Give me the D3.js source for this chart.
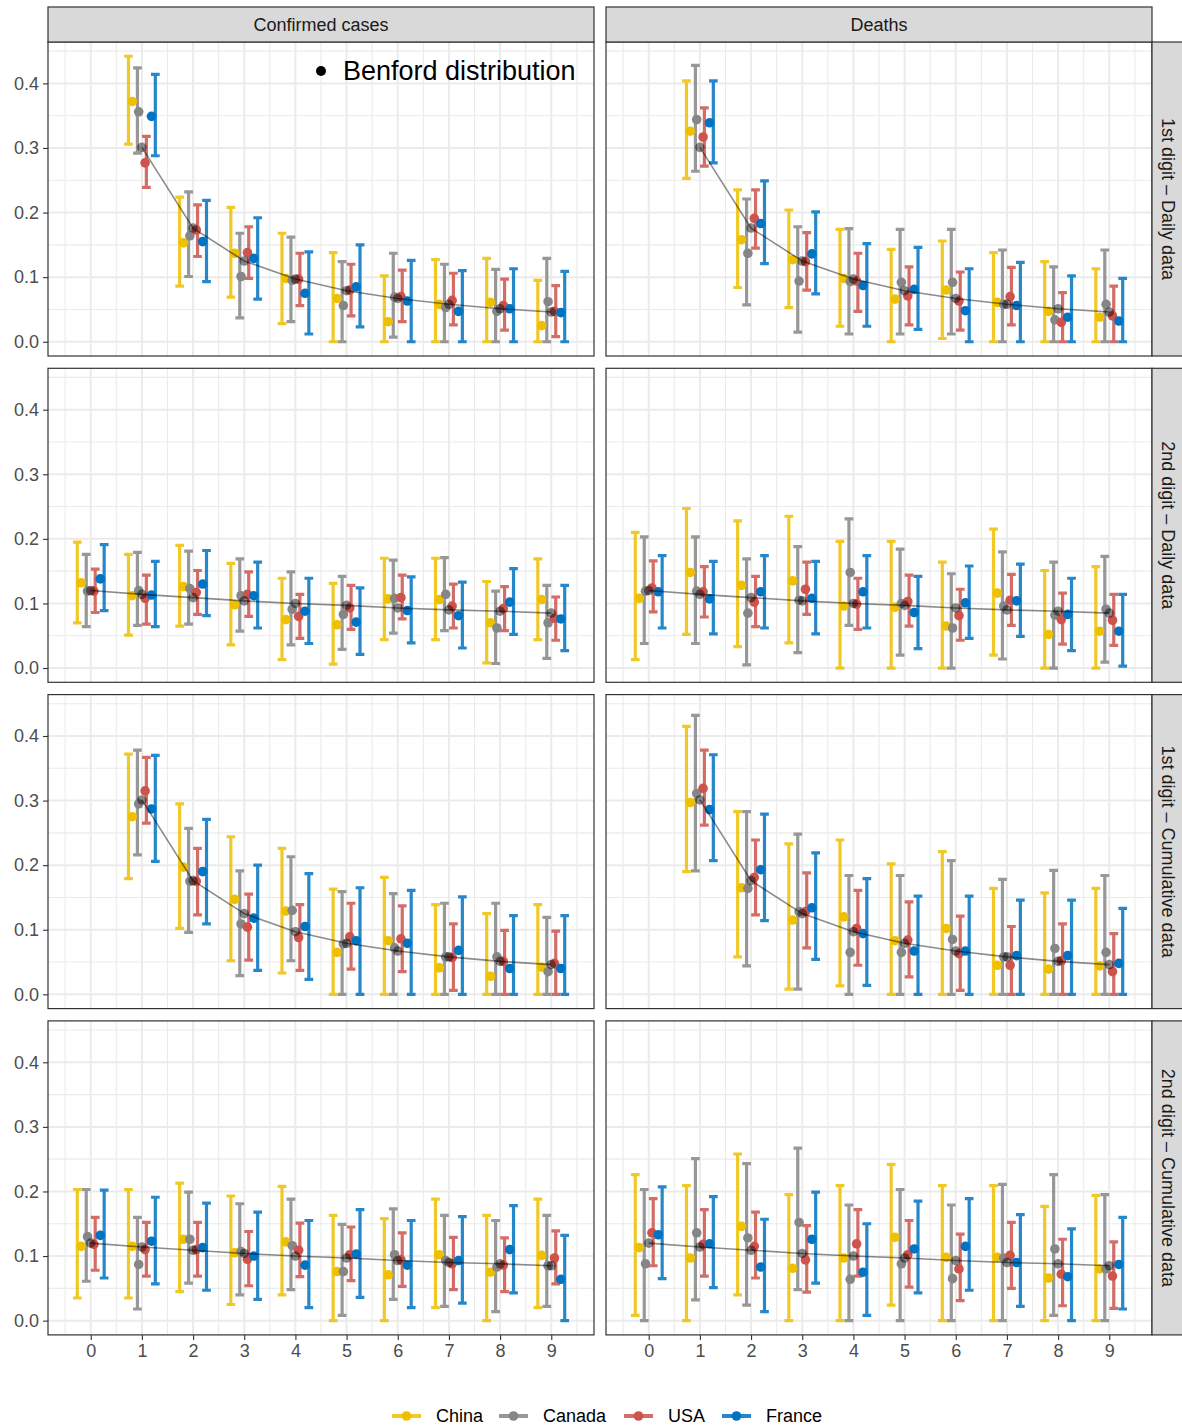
<!DOCTYPE html>
<html>
<head>
<meta charset="utf-8">
<script src="https://cdn.jsdelivr.net/npm/d3@7"></script>
<style>
  body { margin: 0; background: #fff; }
  svg text { font-family: "Liberation Sans", Arial, Helvetica, sans-serif; }
</style>
</head>
<body>
<svg id="chart"></svg>
<script>
// ---- data ----
const countries = ['China', 'Canada', 'USA', 'France'];
const countryColors = ['#EFC000', '#868686', '#CD534C', '#0073C2'];
const digits1 = [1, 2, 3, 4, 5, 6, 7, 8, 9];
const digits2 = [0, 1, 2, 3, 4, 5, 6, 7, 8, 9];
const xTicks = [0, 1, 2, 3, 4, 5, 6, 7, 8, 9];
const yTicks = [0, 0.1, 0.2, 0.3, 0.4];
const columnLabels = ['Confirmed cases', 'Deaths'];
const rowLabels = ['1st digit \u2013 Daily data', '2nd digit \u2013 Daily data',
                   '1st digit \u2013 Cumulative data', '2nd digit \u2013 Cumulative data'];

const benford1 = [0.301, 0.176, 0.125, 0.097, 0.079, 0.067, 0.058, 0.051, 0.046];
const benford2 = [0.120, 0.114, 0.109, 0.104, 0.100, 0.097, 0.093, 0.090, 0.088, 0.085];

// rows: China, Canada, USA, France
const confDaily1Mid = [
  [0.372, 0.153, 0.137, 0.098, 0.067, 0.031, 0.058, 0.061, 0.025],
  [0.356, 0.164, 0.101, 0.095, 0.056, 0.069, 0.053, 0.047, 0.062],
  [0.277, 0.173, 0.138, 0.097, 0.080, 0.070, 0.064, 0.056, 0.047],
  [0.349, 0.155, 0.129, 0.075, 0.085, 0.063, 0.047, 0.051, 0.045]];
const confDaily1Lo = [
  [0.306, 0.086, 0.069, 0.028, 0, 0, 0, 0, 0],
  [0.292, 0.101, 0.037, 0.031, 0, 0.007, 0, 0, 0],
  [0.239, 0.132, 0.098, 0.056, 0.040, 0.031, 0.026, 0.018, 0.008],
  [0.288, 0.093, 0.066, 0.012, 0.023, 0, 0, 0, 0]];
const confDaily1Hi = [
  [0.442, 0.224, 0.208, 0.168, 0.138, 0.102, 0.127, 0.129, 0.095],
  [0.424, 0.232, 0.168, 0.162, 0.124, 0.137, 0.120, 0.112, 0.129],
  [0.318, 0.212, 0.178, 0.137, 0.120, 0.111, 0.106, 0.097, 0.087],
  [0.414, 0.219, 0.192, 0.139, 0.150, 0.126, 0.110, 0.113, 0.109]];

const deathDaily1Mid = [
  [0.326, 0.158, 0.127, 0.098, 0.066, 0.080, 0.061, 0.047, 0.038],
  [0.344, 0.137, 0.094, 0.093, 0.092, 0.092, 0.058, 0.034, 0.058],
  [0.317, 0.191, 0.124, 0.094, 0.071, 0.063, 0.070, 0.030, 0.040],
  [0.339, 0.183, 0.136, 0.087, 0.081, 0.048, 0.056, 0.038, 0.032]];
const deathDaily1Lo = [
  [0.253, 0.084, 0.053, 0.024, 0, 0.005, 0, 0, 0],
  [0.264, 0.057, 0.015, 0.012, 0.012, 0.012, 0, 0, 0],
  [0.272, 0.145, 0.080, 0.047, 0.026, 0.018, 0.026, 0, 0],
  [0.277, 0.121, 0.074, 0.024, 0.019, 0, 0, 0, 0]];
const deathDaily1Hi = [
  [0.404, 0.235, 0.204, 0.174, 0.143, 0.156, 0.138, 0.124, 0.113],
  [0.428, 0.221, 0.178, 0.175, 0.174, 0.174, 0.142, 0.116, 0.142],
  [0.362, 0.235, 0.169, 0.137, 0.116, 0.108, 0.115, 0.076, 0.086],
  [0.404, 0.249, 0.201, 0.152, 0.146, 0.113, 0.123, 0.102, 0.098]];

const confDaily2Mid = [
  [0.132, 0.112, 0.126, 0.098, 0.075, 0.067, 0.107, 0.106, 0.070, 0.106],
  [0.119, 0.120, 0.123, 0.112, 0.091, 0.083, 0.108, 0.114, 0.062, 0.070],
  [0.119, 0.108, 0.117, 0.114, 0.080, 0.093, 0.109, 0.096, 0.092, 0.077],
  [0.138, 0.113, 0.130, 0.112, 0.088, 0.071, 0.089, 0.081, 0.102, 0.076]];
const confDaily2Lo = [
  [0.070, 0.051, 0.065, 0.036, 0.013, 0.006, 0.044, 0.044, 0.008, 0.044],
  [0.064, 0.066, 0.068, 0.057, 0.036, 0.029, 0.054, 0.058, 0.007, 0.015],
  [0.086, 0.068, 0.083, 0.080, 0.046, 0.060, 0.076, 0.062, 0.058, 0.043],
  [0.089, 0.064, 0.081, 0.062, 0.038, 0.021, 0.039, 0.031, 0.052, 0.027]];
const confDaily2Hi = [
  [0.195, 0.176, 0.190, 0.162, 0.139, 0.131, 0.170, 0.170, 0.134, 0.169],
  [0.176, 0.179, 0.181, 0.169, 0.149, 0.142, 0.167, 0.171, 0.119, 0.128],
  [0.153, 0.144, 0.151, 0.149, 0.114, 0.128, 0.144, 0.130, 0.126, 0.110],
  [0.191, 0.165, 0.182, 0.164, 0.139, 0.124, 0.141, 0.133, 0.154, 0.128]];

const deathDaily2Mid = [
  [0.108, 0.148, 0.128, 0.135, 0.096, 0.094, 0.065, 0.116, 0.052, 0.057],
  [0.119, 0.119, 0.085, 0.105, 0.148, 0.100, 0.062, 0.096, 0.082, 0.091],
  [0.124, 0.118, 0.102, 0.122, 0.099, 0.103, 0.081, 0.105, 0.075, 0.074],
  [0.118, 0.107, 0.118, 0.108, 0.118, 0.086, 0.101, 0.104, 0.083, 0.057]];
const deathDaily2Lo = [
  [0.013, 0.052, 0.033, 0.039, 0, 0, 0, 0.020, 0, 0],
  [0.038, 0.038, 0.005, 0.024, 0.066, 0.020, 0, 0.014, 0, 0.009],
  [0.087, 0.079, 0.064, 0.083, 0.060, 0.065, 0.043, 0.066, 0.037, 0.035],
  [0.062, 0.053, 0.062, 0.053, 0.062, 0.030, 0.046, 0.049, 0.027, 0.003]];
const deathDaily2Hi = [
  [0.210, 0.247, 0.228, 0.235, 0.196, 0.196, 0.164, 0.215, 0.151, 0.157],
  [0.203, 0.203, 0.169, 0.188, 0.231, 0.184, 0.146, 0.180, 0.164, 0.173],
  [0.166, 0.157, 0.142, 0.164, 0.139, 0.144, 0.122, 0.145, 0.116, 0.114],
  [0.174, 0.165, 0.174, 0.165, 0.174, 0.142, 0.158, 0.161, 0.139, 0.114]];

const confCum1Mid = [
  [0.275, 0.197, 0.147, 0.129, 0.065, 0.083, 0.041, 0.028, 0.042],
  [0.295, 0.175, 0.109, 0.130, 0.078, 0.072, 0.058, 0.058, 0.035],
  [0.315, 0.175, 0.104, 0.088, 0.089, 0.086, 0.057, 0.051, 0.048],
  [0.287, 0.190, 0.118, 0.105, 0.083, 0.079, 0.068, 0.040, 0.040]];
const confCum1Lo = [
  [0.179, 0.102, 0.052, 0.033, 0, 0, 0, 0, 0],
  [0.216, 0.096, 0.029, 0.052, 0, 0, 0, 0, 0],
  [0.265, 0.123, 0.053, 0.037, 0.039, 0.035, 0.006, 0, 0],
  [0.206, 0.109, 0.037, 0.023, 0, 0, 0, 0, 0]];
const confCum1Hi = [
  [0.372, 0.295, 0.244, 0.226, 0.163, 0.181, 0.139, 0.125, 0.139],
  [0.378, 0.257, 0.191, 0.213, 0.159, 0.156, 0.141, 0.141, 0.119],
  [0.367, 0.226, 0.155, 0.139, 0.141, 0.137, 0.109, 0.099, 0.098],
  [0.370, 0.271, 0.200, 0.187, 0.165, 0.161, 0.151, 0.122, 0.122]];

const deathCum1Mid = [
  [0.297, 0.165, 0.115, 0.120, 0.083, 0.102, 0.045, 0.039, 0.044],
  [0.311, 0.164, 0.128, 0.065, 0.065, 0.085, 0.058, 0.071, 0.065],
  [0.319, 0.181, 0.128, 0.102, 0.084, 0.063, 0.045, 0.052, 0.035],
  [0.286, 0.193, 0.134, 0.094, 0.067, 0.067, 0.060, 0.060, 0.048]];
const deathCum1Lo = [
  [0.190, 0.058, 0.008, 0.013, 0, 0, 0, 0, 0],
  [0.191, 0.044, 0.008, 0, 0, 0, 0, 0, 0],
  [0.262, 0.123, 0.072, 0.045, 0.027, 0.006, 0, 0, 0],
  [0.207, 0.114, 0.054, 0.014, 0, 0, 0, 0, 0]];
const deathCum1Hi = [
  [0.415, 0.283, 0.233, 0.239, 0.202, 0.221, 0.164, 0.157, 0.164],
  [0.432, 0.283, 0.248, 0.184, 0.184, 0.207, 0.178, 0.192, 0.184],
  [0.378, 0.239, 0.188, 0.161, 0.143, 0.121, 0.105, 0.109, 0.094],
  [0.371, 0.279, 0.219, 0.179, 0.152, 0.152, 0.146, 0.146, 0.133]];

const confCum2Mid = [
  [0.115, 0.115, 0.126, 0.105, 0.122, 0.076, 0.071, 0.102, 0.075, 0.101],
  [0.130, 0.087, 0.126, 0.107, 0.116, 0.076, 0.102, 0.093, 0.083, 0.085],
  [0.118, 0.110, 0.110, 0.095, 0.109, 0.102, 0.094, 0.088, 0.086, 0.097],
  [0.132, 0.123, 0.113, 0.100, 0.086, 0.103, 0.086, 0.093, 0.110, 0.064]];
const confCum2Lo = [
  [0.035, 0.035, 0.045, 0.025, 0.040, 0, 0, 0.020, 0, 0.020],
  [0.061, 0.018, 0.058, 0.040, 0.048, 0.008, 0.033, 0.022, 0.014, 0.022],
  [0.078, 0.069, 0.069, 0.054, 0.068, 0.062, 0.053, 0.048, 0.045, 0.057],
  [0.066, 0.057, 0.047, 0.033, 0.020, 0.036, 0.020, 0.027, 0.043, 0]];
const confCum2Hi = [
  [0.203, 0.203, 0.213, 0.193, 0.208, 0.163, 0.158, 0.188, 0.163, 0.188],
  [0.203, 0.160, 0.199, 0.181, 0.188, 0.149, 0.173, 0.163, 0.155, 0.163],
  [0.160, 0.152, 0.152, 0.138, 0.151, 0.145, 0.136, 0.129, 0.128, 0.139],
  [0.202, 0.191, 0.182, 0.168, 0.155, 0.172, 0.155, 0.161, 0.178, 0.132]];

const deathCum2Mid = [
  [0.113, 0.097, 0.146, 0.081, 0.097, 0.129, 0.098, 0.098, 0.066, 0.080],
  [0.088, 0.136, 0.128, 0.152, 0.064, 0.088, 0.065, 0.097, 0.111, 0.080],
  [0.136, 0.118, 0.115, 0.094, 0.119, 0.102, 0.080, 0.101, 0.072, 0.069],
  [0.133, 0.119, 0.083, 0.126, 0.075, 0.111, 0.115, 0.090, 0.068, 0.087]];
const deathCum2Lo = [
  [0.008, 0, 0.040, 0, 0, 0.024, 0, 0, 0, 0],
  [0, 0.032, 0.024, 0.048, 0, 0, 0, 0, 0.008, 0],
  [0.085, 0.069, 0.066, 0.044, 0.069, 0.052, 0.031, 0.050, 0.023, 0.019],
  [0.065, 0.051, 0.014, 0.058, 0.008, 0.043, 0.047, 0.022, 0, 0.018]];
const deathCum2Hi = [
  [0.226, 0.209, 0.258, 0.195, 0.209, 0.242, 0.209, 0.209, 0.177, 0.194],
  [0.203, 0.251, 0.243, 0.267, 0.179, 0.203, 0.179, 0.211, 0.226, 0.195],
  [0.189, 0.172, 0.168, 0.147, 0.172, 0.155, 0.134, 0.152, 0.126, 0.122],
  [0.207, 0.192, 0.157, 0.199, 0.150, 0.185, 0.189, 0.164, 0.142, 0.160]];

// facet grid: [row][col]
const panelDefs = [
  {row: 0, col: 0, digits: digits1, benford: benford1, mid: confDaily1Mid, lo: confDaily1Lo, hi: confDaily1Hi},
  {row: 0, col: 1, digits: digits1, benford: benford1, mid: deathDaily1Mid, lo: deathDaily1Lo, hi: deathDaily1Hi},
  {row: 1, col: 0, digits: digits2, benford: benford2, mid: confDaily2Mid, lo: confDaily2Lo, hi: confDaily2Hi},
  {row: 1, col: 1, digits: digits2, benford: benford2, mid: deathDaily2Mid, lo: deathDaily2Lo, hi: deathDaily2Hi},
  {row: 2, col: 0, digits: digits1, benford: benford1, mid: confCum1Mid, lo: confCum1Lo, hi: confCum1Hi},
  {row: 2, col: 1, digits: digits1, benford: benford1, mid: deathCum1Mid, lo: deathCum1Lo, hi: deathCum1Hi},
  {row: 3, col: 0, digits: digits2, benford: benford2, mid: confCum2Mid, lo: confCum2Lo, hi: confCum2Hi},
  {row: 3, col: 1, digits: digits2, benford: benford2, mid: deathCum2Mid, lo: deathCum2Lo, hi: deathCum2Hi}
];

// ---- layout ----
const W = 1182, H = 1427;
const panelLeft = [48, 606];
const panelW = 546;
const panelTop0 = 42, panelH = 314, rowStep = 326.3;
const stripH = 35;
const fontSize = 18;

const svg = d3.select('#chart').attr('width', W).attr('height', H);
svg.append('rect').attr('width', W).attr('height', H).attr('fill', '#fff');

// shared scales (facet_grid with fixed scales), ggplot-like 5% expansion
const yMaxData = d3.max(panelDefs, p => d3.max(p.hi, r => d3.max(r)));
const yPad = yMaxData * 0.05;
const yScale = d3.scaleLinear().domain([-yPad, yMaxData + yPad]).range([panelH, 0]);
const xExt = [-0.35, 9.35];
const xPad = (xExt[1] - xExt[0]) * 0.05;
const xScale = d3.scaleLinear().domain([xExt[0] - xPad, xExt[1] + xPad]).range([0, panelW]);

const barDodge = 0.7 / countries.length;
const pointDodge = 0.5 / countries.length;
const capHalf = 0.085;

class BenfordPanel {
  constructor(_config, _data) {
    this.config = {
      left: _config.left,
      top: _config.top,
      showY: _config.showY,
      showX: _config.showX
    };
    this.data = _data;
    this.initVis();
  }

  initVis() {
    let vis = this;
    vis.chart = svg.append('g')
      .attr('transform', `translate(${vis.config.left},${vis.config.top})`);

    vis.chart.append('rect')
      .attr('width', panelW).attr('height', panelH).attr('fill', '#fff');

    // minor then major grid
    const xMinor = d3.range(-0.5, 10, 1);
    const yMinor = [0.05, 0.15, 0.25, 0.35, 0.45].filter(v => v < yScale.domain()[1]);
    vis.chart.append('g').selectAll('line.xm').data(xMinor).join('line')
      .attr('x1', d => xScale(d)).attr('x2', d => xScale(d))
      .attr('y1', 0).attr('y2', panelH)
      .attr('stroke', '#EBEBEB').attr('stroke-width', 1.1);
    vis.chart.append('g').selectAll('line.ym').data(yMinor).join('line')
      .attr('x1', 0).attr('x2', panelW)
      .attr('y1', d => yScale(d)).attr('y2', d => yScale(d))
      .attr('stroke', '#EBEBEB').attr('stroke-width', 1.1);
    vis.chart.append('g').selectAll('line.xM').data(xTicks).join('line')
      .attr('x1', d => xScale(d)).attr('x2', d => xScale(d))
      .attr('y1', 0).attr('y2', panelH)
      .attr('stroke', '#EBEBEB').attr('stroke-width', 2);
    vis.chart.append('g').selectAll('line.yM').data(yTicks).join('line')
      .attr('x1', 0).attr('x2', panelW)
      .attr('y1', d => yScale(d)).attr('y2', d => yScale(d))
      .attr('stroke', '#EBEBEB').attr('stroke-width', 2);

    if (vis.config.showY) {
      const yAxis = d3.axisLeft(yScale).tickValues(yTicks).tickSize(5).tickPadding(4)
        .tickFormat(d3.format('.1f'));
      const g = vis.chart.append('g').call(yAxis);
      g.select('.domain').remove();
      g.selectAll('line').attr('stroke', '#333333').attr('stroke-width', 1.1);
      g.selectAll('text').attr('fill', '#4D4D4D').style('font-size', fontSize + 'px')
        .style('font-family', '"Liberation Sans", Arial, sans-serif');
    }
    if (vis.config.showX) {
      const xAxis = d3.axisBottom(xScale).tickValues(xTicks).tickSize(5).tickPadding(4)
        .tickFormat(d3.format('d'));
      const g = vis.chart.append('g').attr('transform', `translate(0,${panelH})`).call(xAxis);
      g.select('.domain').remove();
      g.selectAll('line').attr('stroke', '#333333').attr('stroke-width', 1.1);
      g.selectAll('text').attr('fill', '#4D4D4D').style('font-size', fontSize + 'px')
        .style('font-family', '"Liberation Sans", Arial, sans-serif');
    }
  }

  renderVis() {
    let vis = this;
    const p = vis.data;
    const rows = [];
    countries.forEach((c, ci) => {
      p.digits.forEach((d, di) => {
        rows.push({country: c, ci: ci, digit: d, mid: p.mid[ci][di], lo: p.lo[ci][di], hi: p.hi[ci][di]});
      });
    });
    const bx = d => d.digit + (d.ci - 1.5) * barDodge;
    const px = d => d.digit + (d.ci - 1.5) * pointDodge;

    // error bars
    vis.chart.append('g').selectAll('path').data(rows).join('path')
      .attr('stroke', d => countryColors[d.ci])
      .attr('stroke-opacity', 0.85)
      .attr('stroke-width', 3.2)
      .attr('fill', 'none')
      .attr('d', d => {
        const x0 = xScale(bx(d) - capHalf), x1 = xScale(bx(d) + capHalf), xc = xScale(bx(d));
        const y0 = yScale(d.lo), y1 = yScale(d.hi);
        return `M${x0},${y1}H${x1}M${xc},${y1}V${y0}M${x0},${y0}H${x1}`;
      });

    // country points
    vis.chart.append('g').selectAll('circle').data(rows).join('circle')
      .attr('cx', d => xScale(px(d)))
      .attr('cy', d => yScale(d.mid))
      .attr('r', 4.8)
      .attr('fill', d => countryColors[d.ci]);

    // Benford reference
    const ben = p.digits.map((d, i) => ({digit: d, value: p.benford[i]}));
    vis.chart.append('path')
      .datum(ben)
      .attr('d', d3.line().x(d => xScale(d.digit)).y(d => yScale(d.value)))
      .attr('fill', 'none')
      .attr('stroke', '#000').attr('stroke-opacity', 0.45).attr('stroke-width', 1.6);
    vis.chart.append('g').selectAll('circle').data(ben).join('circle')
      .attr('cx', d => xScale(d.digit))
      .attr('cy', d => yScale(d.value))
      .attr('r', 4.8)
      .attr('fill', '#000').attr('fill-opacity', 0.45);

    // panel border
    vis.chart.append('rect')
      .attr('width', panelW).attr('height', panelH)
      .attr('fill', 'none').attr('stroke', '#333333').attr('stroke-width', 1.2);
  }
}

panelDefs.forEach(p => {
  const panel = new BenfordPanel({
    left: panelLeft[p.col],
    top: panelTop0 + p.row * rowStep,
    showY: p.col === 0,
    showX: p.row === 3
  }, p);
  panel.renderVis();
});

// column strips
columnLabels.forEach((lab, i) => {
  const g = svg.append('g').attr('transform', `translate(${panelLeft[i]},${panelTop0 - stripH})`);
  g.append('rect').attr('width', panelW).attr('height', stripH)
    .attr('fill', '#D9D9D9').attr('stroke', '#333333').attr('stroke-width', 1.2);
  g.append('text').attr('x', panelW / 2).attr('y', stripH / 2).attr('dy', '0.35em')
    .attr('text-anchor', 'middle').attr('fill', '#1A1A1A').style('font-size', fontSize + 'px')
    .text(lab);
});

// row strips
const stripX = panelLeft[1] + panelW;
rowLabels.forEach((lab, i) => {
  const top = panelTop0 + i * rowStep;
  const g = svg.append('g').attr('transform', `translate(${stripX},${top})`);
  g.append('rect').attr('width', stripH).attr('height', panelH)
    .attr('fill', '#D9D9D9').attr('stroke', '#333333').attr('stroke-width', 1.2);
  g.append('text')
    .attr('transform', `translate(${stripH / 2 - 1},${panelH / 2}) rotate(90)`)
    .attr('dy', '0.35em').attr('text-anchor', 'middle')
    .attr('fill', '#1A1A1A').style('font-size', fontSize + 'px')
    .text(lab);
});

// Benford annotation in the first panel
const ann = svg.append('g').attr('transform', `translate(${panelLeft[0]},${panelTop0})`);
ann.append('circle').attr('cx', 273).attr('cy', 29).attr('r', 5).attr('fill', '#000');
ann.append('text').attr('x', 295).attr('y', 29).attr('dy', '0.35em')
  .attr('fill', '#000').style('font-size', '27px').text('Benford distribution');

// bottom legend
const legendX = [392, 499, 624, 722];
const legendY = 1416;
const legend = svg.append('g');
countries.forEach((c, i) => {
  const g = legend.append('g').attr('transform', `translate(${legendX[i]},${legendY})`);
  g.append('line').attr('x1', 0).attr('x2', 29).attr('y1', 0).attr('y2', 0)
    .attr('stroke', countryColors[i]).attr('stroke-opacity', 0.85).attr('stroke-width', 4);
  g.append('circle').attr('cx', 14.5).attr('cy', 0).attr('r', 4.8).attr('fill', countryColors[i]);
  g.append('text').attr('x', 44).attr('y', 0).attr('dy', '0.35em')
    .attr('fill', '#000').style('font-size', fontSize + 'px').text(c);
});
</script>
</body>
</html>
